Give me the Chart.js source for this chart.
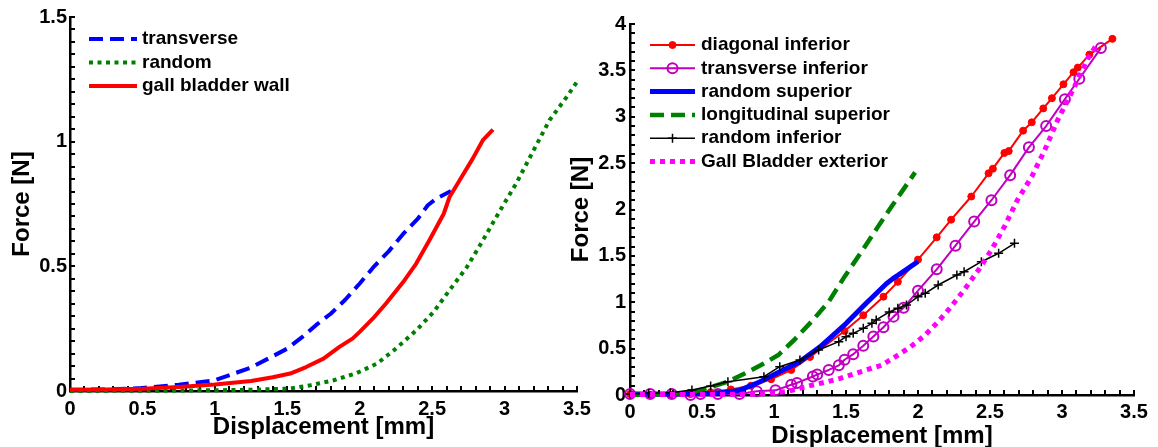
<!DOCTYPE html>
<html>
<head>
<meta charset="utf-8">
<title>Force vs displacement</title>
<script src="https://cdn.jsdelivr.net/npm/chart.js@4.4.1/dist/chart.umd.min.js"></script>
<style>
    html, body { margin: 0; padding: 0; background: #fff; }
    #wrap { position: relative; width: 1158px; height: 447px; overflow: hidden; }
    canvas { position: absolute; top: 0; }
    #leftChart { left: 0; }
    #rightChart { left: 560px; }
</style>
</head>
<body>
<div id="wrap">
    <canvas id="leftChart" width="598" height="447"></canvas>
    <canvas id="rightChart" width="598" height="447"></canvas>
</div>
<script>
'use strict';

// left panel: wall samples
var transverseDisp = [0, 0.25, 0.5, 0.75, 1.0, 1.25, 1.5, 1.6, 1.7, 1.8, 1.9, 2.0, 2.1, 2.2, 2.3, 2.4, 2.47, 2.53, 2.63];
var transverseForce = [0.005, 0.006, 0.012, 0.025, 0.043, 0.094, 0.17, 0.215, 0.265, 0.31, 0.366, 0.431, 0.50, 0.56, 0.63, 0.69, 0.745, 0.772, 0.802];

var randomDisp = [0, 0.5, 1.0, 1.25, 1.52, 1.66, 1.82, 1.98, 2.12, 2.25, 2.39, 2.51, 2.62, 2.74, 2.85, 2.97, 3.08, 3.2, 3.31, 3.43, 3.5];
var randomForce = [0, 0.001, 0.003, 0.005, 0.01, 0.023, 0.043, 0.072, 0.11, 0.17, 0.243, 0.317, 0.404, 0.497, 0.604, 0.725, 0.832, 0.965, 1.086, 1.18, 1.24];

var wallDisp = [0, 0.25, 0.5, 0.75, 1.0, 1.25, 1.4, 1.52, 1.63, 1.75, 1.86, 1.95, 2.0, 2.09, 2.18, 2.3, 2.39, 2.48, 2.58, 2.62, 2.69, 2.78, 2.85, 2.92];
var wallForce = [0.005, 0.006, 0.009, 0.016, 0.026, 0.04, 0.055, 0.07, 0.096, 0.13, 0.177, 0.21, 0.237, 0.29, 0.35, 0.437, 0.511, 0.604, 0.711, 0.778, 0.845, 0.932, 1.006, 1.048];

// right panel: superior / inferior samples
var diagInfDisp = [0, 0.14, 0.28, 0.42, 0.56, 0.7, 0.84, 0.98, 1.12, 1.25, 1.49, 1.62, 1.76, 1.86, 2.0, 2.13, 2.23, 2.37, 2.49, 2.52, 2.6, 2.63, 2.73, 2.79, 2.87, 2.93, 3.01, 3.08, 3.11, 3.19, 3.35];
var diagInfForce = [0.01, 0.0, 0.0, 0.01, 0.03, 0.06, 0.1, 0.17, 0.27, 0.41, 0.69, 0.86, 1.06, 1.22, 1.46, 1.7, 1.89, 2.14, 2.39, 2.44, 2.61, 2.63, 2.85, 2.94, 3.09, 3.2, 3.35, 3.48, 3.53, 3.67, 3.84];

var transInfDisp = [0, 0.14, 0.29, 0.42, 0.49, 0.61, 0.76, 0.88, 1.01, 1.12, 1.16, 1.27, 1.3, 1.38, 1.45, 1.49, 1.55, 1.62, 1.69, 1.76, 1.83, 1.9, 2.0, 2.13, 2.26, 2.39, 2.51, 2.64, 2.77, 2.89, 3.02, 3.12, 3.27];
var transInfForce = [0.01, 0.01, 0.01, 0.0, 0.01, 0.01, 0.01, 0.04, 0.05, 0.11, 0.13, 0.2, 0.22, 0.27, 0.32, 0.38, 0.44, 0.53, 0.63, 0.73, 0.845, 0.94, 1.125, 1.355, 1.61, 1.87, 2.10, 2.37, 2.67, 2.9, 3.19, 3.41, 3.74];

var randSupDisp = [0, 0.3, 0.6, 0.76, 0.9, 1.04, 1.18, 1.32, 1.5, 1.64, 1.78, 1.83, 1.86, 2.0];
var randSupForce = [0.01, 0.01, 0.02, 0.05, 0.14, 0.25, 0.36, 0.52, 0.77, 0.99, 1.2, 1.26, 1.29, 1.44];

var longSupDisp = [0, 0.3, 0.45, 0.57, 0.68, 0.8, 0.91, 1.03, 1.14, 1.26, 1.38, 1.49, 1.61, 1.72, 1.82, 1.98];
var longSupForce = [0.0, 0.01, 0.036, 0.09, 0.143, 0.234, 0.323, 0.431, 0.593, 0.79, 1.006, 1.276, 1.55, 1.81, 2.04, 2.4];

var randInfDisp = [0, 0.13, 0.28, 0.43, 0.56, 0.68, 0.93, 1.04, 1.18, 1.31, 1.45, 1.5, 1.55, 1.62, 1.68, 1.71, 1.8, 1.86, 1.92, 2.0, 2.05, 2.14, 2.27, 2.32, 2.44, 2.56, 2.67];
var randInfForce = [0.01, 0.018, 0.025, 0.054, 0.097, 0.143, 0.197, 0.305, 0.377, 0.485, 0.575, 0.629, 0.665, 0.719, 0.773, 0.809, 0.895, 0.935, 0.97, 1.06, 1.096, 1.186, 1.294, 1.329, 1.437, 1.528, 1.636];

var exteriorDisp = [0, 0.5, 0.9, 1.09, 1.18, 1.27, 1.37, 1.46, 1.55, 1.64, 1.75, 1.85, 1.95, 2.05, 2.14, 2.23, 2.32, 2.42, 2.51, 2.6, 2.69, 2.79, 2.88, 2.97, 3.07, 3.18, 3.25];
var exteriorForce = [0.005, 0.005, 0.01, 0.036, 0.072, 0.108, 0.143, 0.18, 0.225, 0.27, 0.323, 0.42, 0.521, 0.647, 0.79, 0.952, 1.132, 1.348, 1.563, 1.815, 2.102, 2.354, 2.64, 2.965, 3.27, 3.63, 3.8];

var FONT = "'Liberation Sans', Arial, Helvetica, sans-serif";

function pts(xs, ys) {
    var out = [];
    for (var i = 0; i < xs.length; i++) {
        out.push({ x: xs[i], y: ys[i] });
    }
    return out;
}

// only label the half-unit ticks
function halfLabel(v) {
    var r = Math.round(v * 2) / 2;
    return Math.abs(v - r) < 1e-6 ? String(r) : '';
}

function series(label, xs, ys, style) {
    return {
        label: label,
        data: pts(xs, ys),
        showLine: true,
        fill: false,
        tension: 0,
        clip: false,
        borderColor: style.color,
        borderWidth: style.width,
        borderDash: style.dash || [],
        borderJoinStyle: 'round',
        pointRadius: style.radius || 0,
        pointHoverRadius: style.radius || 0,
        pointStyle: style.marker || 'circle',
        pointBackgroundColor: style.fillPoint ? style.color : 'rgba(0,0,0,0)',
        pointBorderColor: style.color,
        pointBorderWidth: style.pointWidth || 1
    };
}

// minor tick marks pointing into the plot
function drawInnerTicks(chart, xStep, yStep) {
    var ctx = chart.ctx;
    var xs = chart.scales.x, ys = chart.scales.y;
    var area = chart.chartArea;
    var i, p;
    var nx = Math.round(xs.max / xStep);
    var ny = Math.round(ys.max / yStep);
    ctx.save();
    ctx.fillStyle = '#000000';
    for (i = 0; i <= nx; i++) {
        p = Math.round(xs.getPixelForValue(i * xStep));
        ctx.fillRect(p - 1, area.bottom - 5, 2, 5);
    }
    for (i = 0; i <= ny; i++) {
        p = Math.round(ys.getPixelForValue(i * yStep));
        ctx.fillRect(area.left, p - 1, 5, 2);
    }
    ctx.restore();
}

// line samples drawn inside the plot, like the matlab legend
function drawLegend(chart, lg) {
    var ctx = chart.ctx;
    var mid = (lg.x1 + lg.x2) / 2;
    ctx.save();
    chart.data.datasets.forEach(function (ds, i) {
        var y = lg.top + i * lg.rowHeight;
        ctx.lineWidth = ds.borderWidth;
        ctx.strokeStyle = ds.borderColor;
        ctx.setLineDash(ds.borderDash || []);
        ctx.beginPath();
        ctx.moveTo(lg.x1, y);
        ctx.lineTo(lg.x2, y);
        ctx.stroke();
        ctx.setLineDash([]);
        if (ds.pointRadius) {
            ctx.fillStyle = ds.pointBackgroundColor;
            ctx.strokeStyle = ds.pointBorderColor;
            ctx.lineWidth = ds.pointBorderWidth;
            Chart.helpers.drawPoint(ctx, {
                pointStyle: ds.pointStyle,
                radius: ds.pointRadius,
                borderWidth: ds.pointBorderWidth,
                rotation: 0
            }, mid, y);
        }
        ctx.fillStyle = '#000';
        ctx.font = 'bold 19px ' + FONT;
        ctx.textAlign = 'left';
        ctx.textBaseline = 'middle';
        ctx.fillText(ds.label, lg.textX, y);
    });
    ctx.restore();
}

function makeChart(id, datasets, cfg) {
    var n = datasets.length;
    // later series sit on top
    datasets.forEach(function (ds, i) { ds.order = n - i; });

    var overlay = {
        id: 'overlay',
        beforeDatasetsDraw: function (chart) {
            drawInnerTicks(chart, 0.1, cfg.yStep);
        },
        afterDraw: function (chart) {
            drawLegend(chart, cfg.legend);
        }
    };

    return new Chart(document.getElementById(id), {
        type: 'scatter',
        data: { datasets: datasets },
        plugins: [overlay],
        options: {
            responsive: false,
            animation: false,
            devicePixelRatio: 1,
            layout: { padding: { left: 0, top: cfg.padTop, right: cfg.padRight, bottom: 0 } },
            plugins: {
                legend: { display: false },
                tooltip: { enabled: false }
            },
            scales: {
                x: {
                    type: 'linear',
                    min: 0,
                    max: 3.5,
                    border: { display: true, color: '#000', width: 2.5 },
                    grid: { display: false, drawTicks: false },
                    ticks: {
                        stepSize: 0.5,
                        autoSkip: false,
                        maxRotation: 0,
                        padding: cfg.xTickPad,
                        color: '#000',
                        font: { family: FONT, size: 20, weight: 'bold' },
                        callback: halfLabel
                    },
                    title: {
                        display: true,
                        text: 'Displacement [mm]',
                        color: '#000',
                        font: { family: FONT, size: 24, weight: 'bold' },
                        padding: { top: 0, bottom: cfg.xTitlePad }
                    },
                    afterFit: function (scale) { scale.height = cfg.xHeight; }
                },
                y: {
                    type: 'linear',
                    min: 0,
                    max: cfg.yMax,
                    border: { display: true, color: '#000', width: 2.5 },
                    grid: { display: false, drawTicks: false },
                    ticks: {
                        stepSize: 0.5,
                        autoSkip: false,
                        padding: cfg.yTickPad,
                        color: '#000',
                        font: { family: FONT, size: 20, weight: 'bold' },
                        callback: halfLabel
                    },
                    title: {
                        display: true,
                        text: 'Force [N]',
                        color: '#000',
                        font: { family: FONT, size: 24, weight: 'bold' },
                        padding: { top: cfg.yTitlePad, bottom: 0 }
                    },
                    afterFit: function (scale) { scale.width = 70; }
                }
            }
        }
    });
}

makeChart('leftChart', [
    series('transverse', transverseDisp, transverseForce, { color: '#0000ff', width: 4, dash: [14, 7] }),
    series('random', randomDisp, randomForce, { color: '#008000', width: 4, dash: [4, 4.5] }),
    series('gall bladder wall', wallDisp, wallForce, { color: '#ff0000', width: 4 })
], {
    padTop: 17, padRight: 21, xHeight: 56, yMax: 1.5, yStep: 0.05,
    xTickPad: 6, yTickPad: 3, xTitlePad: 5, yTitlePad: 8,
    legend: { x1: 89, x2: 137, textX: 142, top: 39, rowHeight: 23.5 }
});

makeChart('rightChart', [
    series('diagonal inferior', diagInfDisp, diagInfForce, { color: '#ff0000', width: 2, radius: 3.5, fillPoint: true }),
    series('transverse inferior', transInfDisp, transInfForce, { color: '#bf00bf', width: 2, radius: 5, pointWidth: 2 }),
    series('random superior', randSupDisp, randSupForce, { color: '#0000ff', width: 5 }),
    series('longitudinal superior', longSupDisp, longSupForce, { color: '#008000', width: 4.5, dash: [14, 7] }),
    series('random inferior', randInfDisp, randInfForce, { color: '#000000', width: 1.5, radius: 4.5, marker: 'cross', pointWidth: 1.5 }),
    series('Gall Bladder exterior', exteriorDisp, exteriorForce, { color: '#ff00ff', width: 5, dash: [5, 5] })
], {
    padTop: 24, padRight: 24, xHeight: 52, yMax: 4, yStep: 0.1,
    xTickPad: 5, yTickPad: 4, xTitlePad: -4, yTitlePad: 7,
    legend: { x1: 90, x2: 135, textX: 141, top: 45, rowHeight: 23.3 }
});
</script>
</body>
</html>
